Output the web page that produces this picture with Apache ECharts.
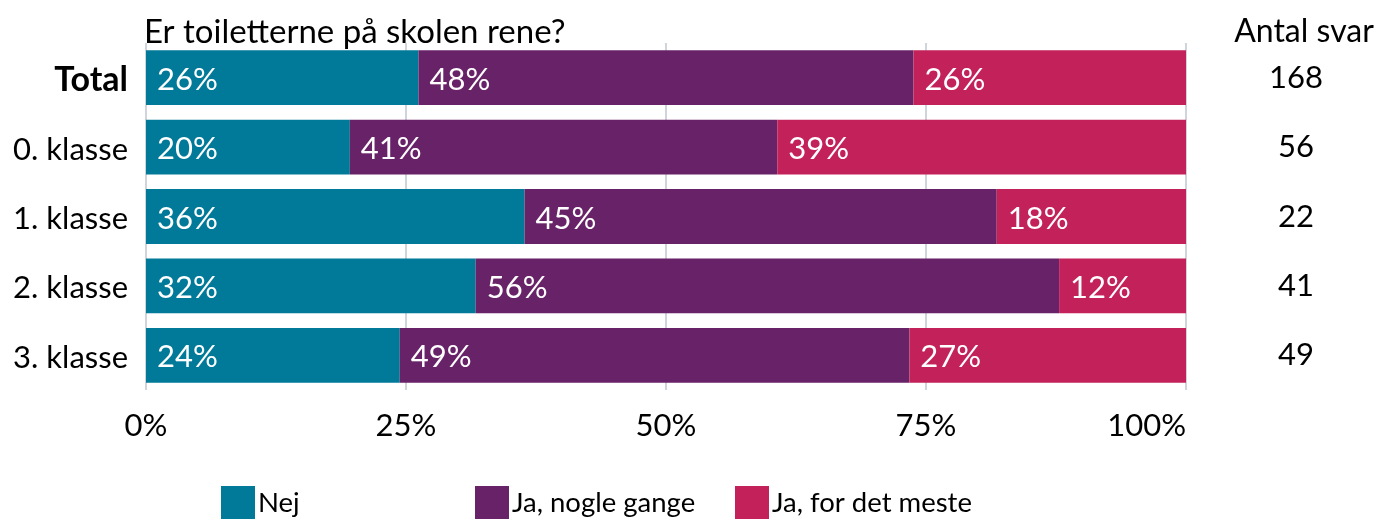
<!DOCTYPE html>
<html>
<head>
<meta charset="utf-8">
<script src="https://cdn.jsdelivr.net/npm/echarts@6/dist/echarts.min.js"></script>
<style>
html,body{margin:0;padding:0;background:#fff;}
#chart{width:1376px;height:519px;}
</style>
</head>
<body>
<div id="chart"></div>
<script>
const categories = ['Total', '0. klasse', '1. klasse', '2. klasse', '3. klasse'];
const counts = ['168', '56', '22', '41', '49'];
const seriesNames = ['Nej', 'Ja, nogle gange', 'Ja, for det meste'];
const nej = [26.2, 19.6, 36.4, 31.7, 24.4];
const nogle = [47.6, 41.1, 45.4, 56.1, 49.0];
const meste = [26.2, 39.3, 18.2, 12.2, 26.6];
const xTicks = [0, 25, 50, 75, 100];
const colors = ['#017A99', '#682268', '#C32159'];
const FONT = 'Lato';

const chart = echarts.init(document.getElementById('chart'), null, {renderer: 'canvas'});

function mkSeries(name, data, color) {
  return {
    name: name,
    type: 'bar',
    stack: 'all',
    data: data,
    barCategoryGap: '21%',
    itemStyle: {color: color},
    label: {
      show: true,
      position: 'insideLeft',
      distance: 11,
      offset: [0, 2],
      color: '#fff',
      fontFamily: FONT,
      fontSize: 31,
      formatter: p => Math.round(p.value) + '%'
    },
    emphasis: {disabled: true}
  };
}

const option = {
  animation: false,
  textStyle: {fontFamily: FONT},
  title: [
    {text: 'Er toiletterne på skolen rene?', left: 139, top: 11,
     textStyle: {fontFamily: FONT, fontSize: 33, fontWeight: 'normal', color: '#000'}},
    {text: 'Antal svar', left: 1299, top: 11, textAlign: 'center',
     textStyle: {fontFamily: FONT, fontSize: 32, fontWeight: 'normal', color: '#000'}}
  ],
  legend: [0, 1, 2].map(i => ({
    data: [seriesNames[i]],
    left: [221, 475, 735][i],
    top: 486,
    padding: 0,
    itemWidth: 34,
    itemHeight: 34,
    itemGap: 0,
    icon: 'rect',
    selectedMode: false,
    textStyle: {fontFamily: FONT, fontSize: 27.5, color: '#000', padding: [9, 0, 0, -2]}
  })),
  grid: {left: 146, right: 190, top: 43, bottom: 129, containLabel: false},
  xAxis: {
    type: 'value',
    min: 0, max: 100, interval: 25,
    axisLine: {show: false},
    axisTick: {show: false},
    splitLine: {show: true, lineStyle: {color: '#cfd5da', width: 2}},
    axisLabel: {
      margin: 20,
      alignMaxLabel: 'right',
      fontFamily: FONT, fontSize: 31, color: '#000',
      formatter: v => xTicks.includes(v) ? v + '%' : ''
    }
  },
  yAxis: [
    {
      type: 'category',
      data: categories,
      inverse: true,
      axisLine: {show: false},
      axisTick: {show: false},
      axisLabel: {
        margin: 18,
        fontFamily: FONT, fontSize: 31, color: '#000',
        padding: [5, 0, 0, 0],
        formatter: v => v === 'Total' ? '{b|' + v + '}' : v,
        rich: {b: {fontFamily: FONT, fontSize: 34, fontWeight: 'bold', color: '#000'}}
      }
    },
    {
      type: 'category',
      data: counts,
      inverse: true,
      position: 'right',
      axisLine: {show: false},
      axisTick: {show: false},
      axisLabel: {
        margin: 110,
        align: 'center',
        padding: [5, 0, 0, 0],
        fontFamily: FONT, fontSize: 31, color: '#000'
      }
    }
  ],
  series: [
    mkSeries(seriesNames[0], nej, colors[0]),
    mkSeries(seriesNames[1], nogle, colors[1]),
    mkSeries(seriesNames[2], meste, colors[2])
  ]
};
chart.setOption(option);
</script>
</body>
</html>
